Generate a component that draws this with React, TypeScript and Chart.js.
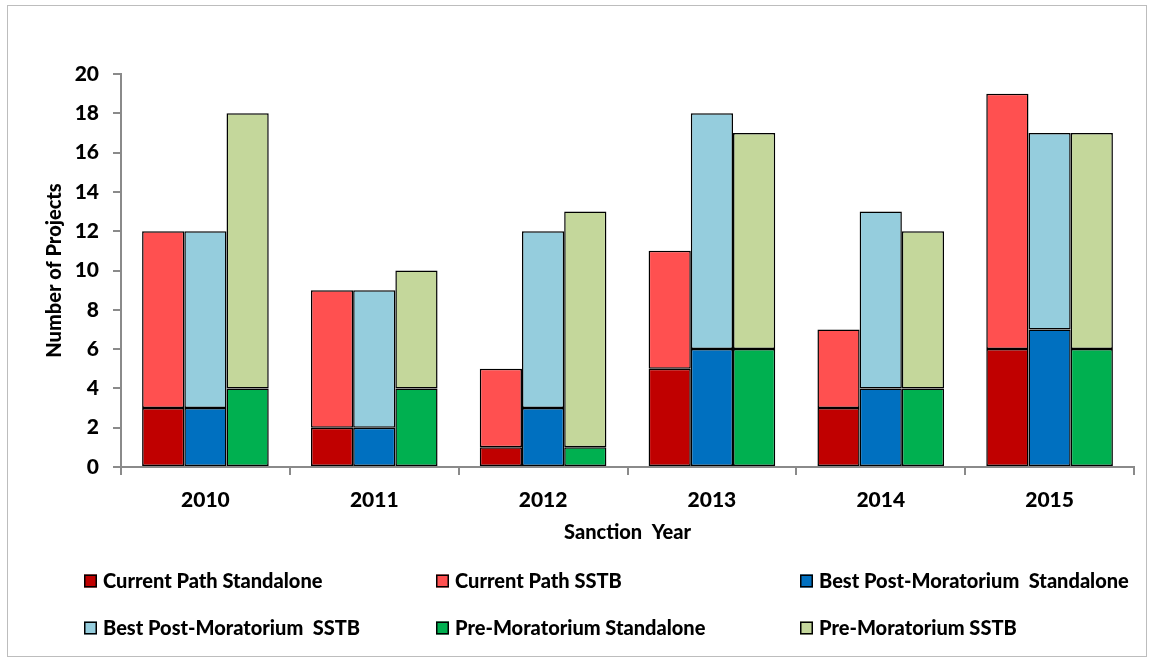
import React, { useEffect, useRef } from "react";
import { Chart, registerables } from "chart.js";

Chart.register(...registerables);

// Sanction years on the category axis
const years = ["2010", "2011", "2012", "2013", "2014", "2015"];

// Project counts per scenario; SSTB values are the part stacked above the standalone count
const currentPathStandalone = [3, 2, 1, 5, 3, 6];
const currentPathSSTB = [9, 7, 4, 6, 4, 13];
const bestPostStandalone = [3, 2, 3, 6, 4, 7];
const bestPostSSTB = [9, 7, 9, 12, 9, 10];
const preMoratoriumStandalone = [4, 4, 1, 6, 4, 6];
const preMoratoriumSSTB = [14, 6, 12, 11, 8, 11];

const seriesLabels = [
  "Current Path Standalone",
  "Current Path SSTB",
  "Best Post-Moratorium  Standalone",
  "Best Post-Moratorium  SSTB",
  "Pre-Moratorium Standalone",
  "Pre-Moratorium SSTB",
];
const seriesColors = ["#C00000", "#FF5050", "#0070C0", "#95CDDD", "#00B050", "#C4D79B"];

const FONT = "Lato, 'Open Sans', sans-serif";
const WEIGHT = "900";

// Legend laid out in a three-column grid below the plot, plus the outer frame
const gridLegend = {
  id: "gridLegend",
  beforeDraw(chart: any) {
    const ctx = chart.ctx;
    ctx.save();
    ctx.fillStyle = "#ffffff";
    ctx.fillRect(0, 0, chart.width, chart.height);
    ctx.strokeStyle = "#bdbdbd";
    ctx.lineWidth = 1;
    ctx.strokeRect(7.5, 5.5, 1139, 651);
    ctx.restore();
  },
  afterDraw(chart: any) {
    const ctx = chart.ctx;
    const colX = [84, 436, 800];
    const rowY = [581, 628];
    ctx.save();
    ctx.font = `${WEIGHT} 20px ${FONT}`;
    ctx.textBaseline = "middle";
    ctx.textAlign = "left";
    chart.data.datasets.forEach((ds: any, i: number) => {
      const x = colX[i % 3];
      const y = rowY[Math.floor(i / 3)];
      ctx.fillStyle = ds.backgroundColor;
      ctx.fillRect(x, y - 6.5, 13, 13);
      ctx.strokeStyle = "#000000";
      ctx.lineWidth = 1.5;
      ctx.strokeRect(x + 0.75, y - 5.75, 11.5, 11.5);
      ctx.fillStyle = "#000000";
      ctx.fillText(ds.label, x + 19, y + 1);
    });
    ctx.restore();
  },
};

export default function App() {
  const canvasRef = useRef<HTMLCanvasElement | null>(null);

  useEffect(() => {
    const canvas = canvasRef.current;
    if (!canvas) return;
    const values = [
      currentPathStandalone,
      currentPathSSTB,
      bestPostStandalone,
      bestPostSSTB,
      preMoratoriumStandalone,
      preMoratoriumSSTB,
    ];
    const stacks = ["cp", "cp", "bp", "bp", "pm", "pm"];
    const chart = new Chart(canvas, {
      type: "bar",
      data: {
        labels: years,
        datasets: values.map((data, i) => ({
          label: seriesLabels[i],
          data,
          stack: stacks[i],
          backgroundColor: seriesColors[i],
          borderColor: "#000000",
          borderWidth: 1.5,
          borderSkipped: false,
          barPercentage: 1,
          categoryPercentage: 0.75,
        })),
      },
      options: {
        responsive: false,
        animation: false,
        devicePixelRatio: 1,
        layout: { padding: { left: 0, top: 74, right: 20, bottom: 115 } },
        plugins: {
          legend: { display: false },
          tooltip: { enabled: false },
        },
        scales: {
          x: {
            stacked: true,
            afterFit: (scale: any) => {
              scale.height = 80;
            },
            grid: {
              offset: true,
              drawOnChartArea: false,
              drawTicks: true,
              tickLength: 8,
              color: "#8a8a8a",
              lineWidth: 2,
            },
            border: { color: "#8a8a8a", width: 2 },
            ticks: {
              color: "#000000",
              font: { family: FONT, size: 21, weight: WEIGHT },
              padding: 13,
            },
            title: {
              display: true,
              text: "Sanction  Year",
              color: "#000000",
              font: { family: FONT, size: 20, weight: WEIGHT },
              padding: { top: 0, bottom: 2 },
            },
          },
          y: {
            stacked: true,
            min: 0,
            max: 20,
            afterFit: (scale: any) => {
              scale.width = 121;
            },
            grid: {
              drawOnChartArea: false,
              drawTicks: true,
              tickLength: 8,
              color: "#8a8a8a",
              lineWidth: 2,
            },
            border: { color: "#8a8a8a", width: 2 },
            ticks: {
              stepSize: 2,
              color: "#000000",
              font: { family: FONT, size: 21, weight: WEIGHT },
              padding: 14,
            },
            title: {
              display: true,
              text: "Number of Projects",
              color: "#000000",
              font: { family: FONT, size: 20, weight: WEIGHT },
              padding: { top: 43, bottom: 0 },
            },
          },
        },
      },
      plugins: [gridLegend],
    });
    return () => chart.destroy();
  }, []);

  return (
    <div style={{ position: "fixed", left: 0, top: 0, width: 1154, height: 662, background: "#fff" }}>
      <canvas ref={canvasRef} width={1154} height={662} style={{ display: "block" }} />
    </div>
  );
}
